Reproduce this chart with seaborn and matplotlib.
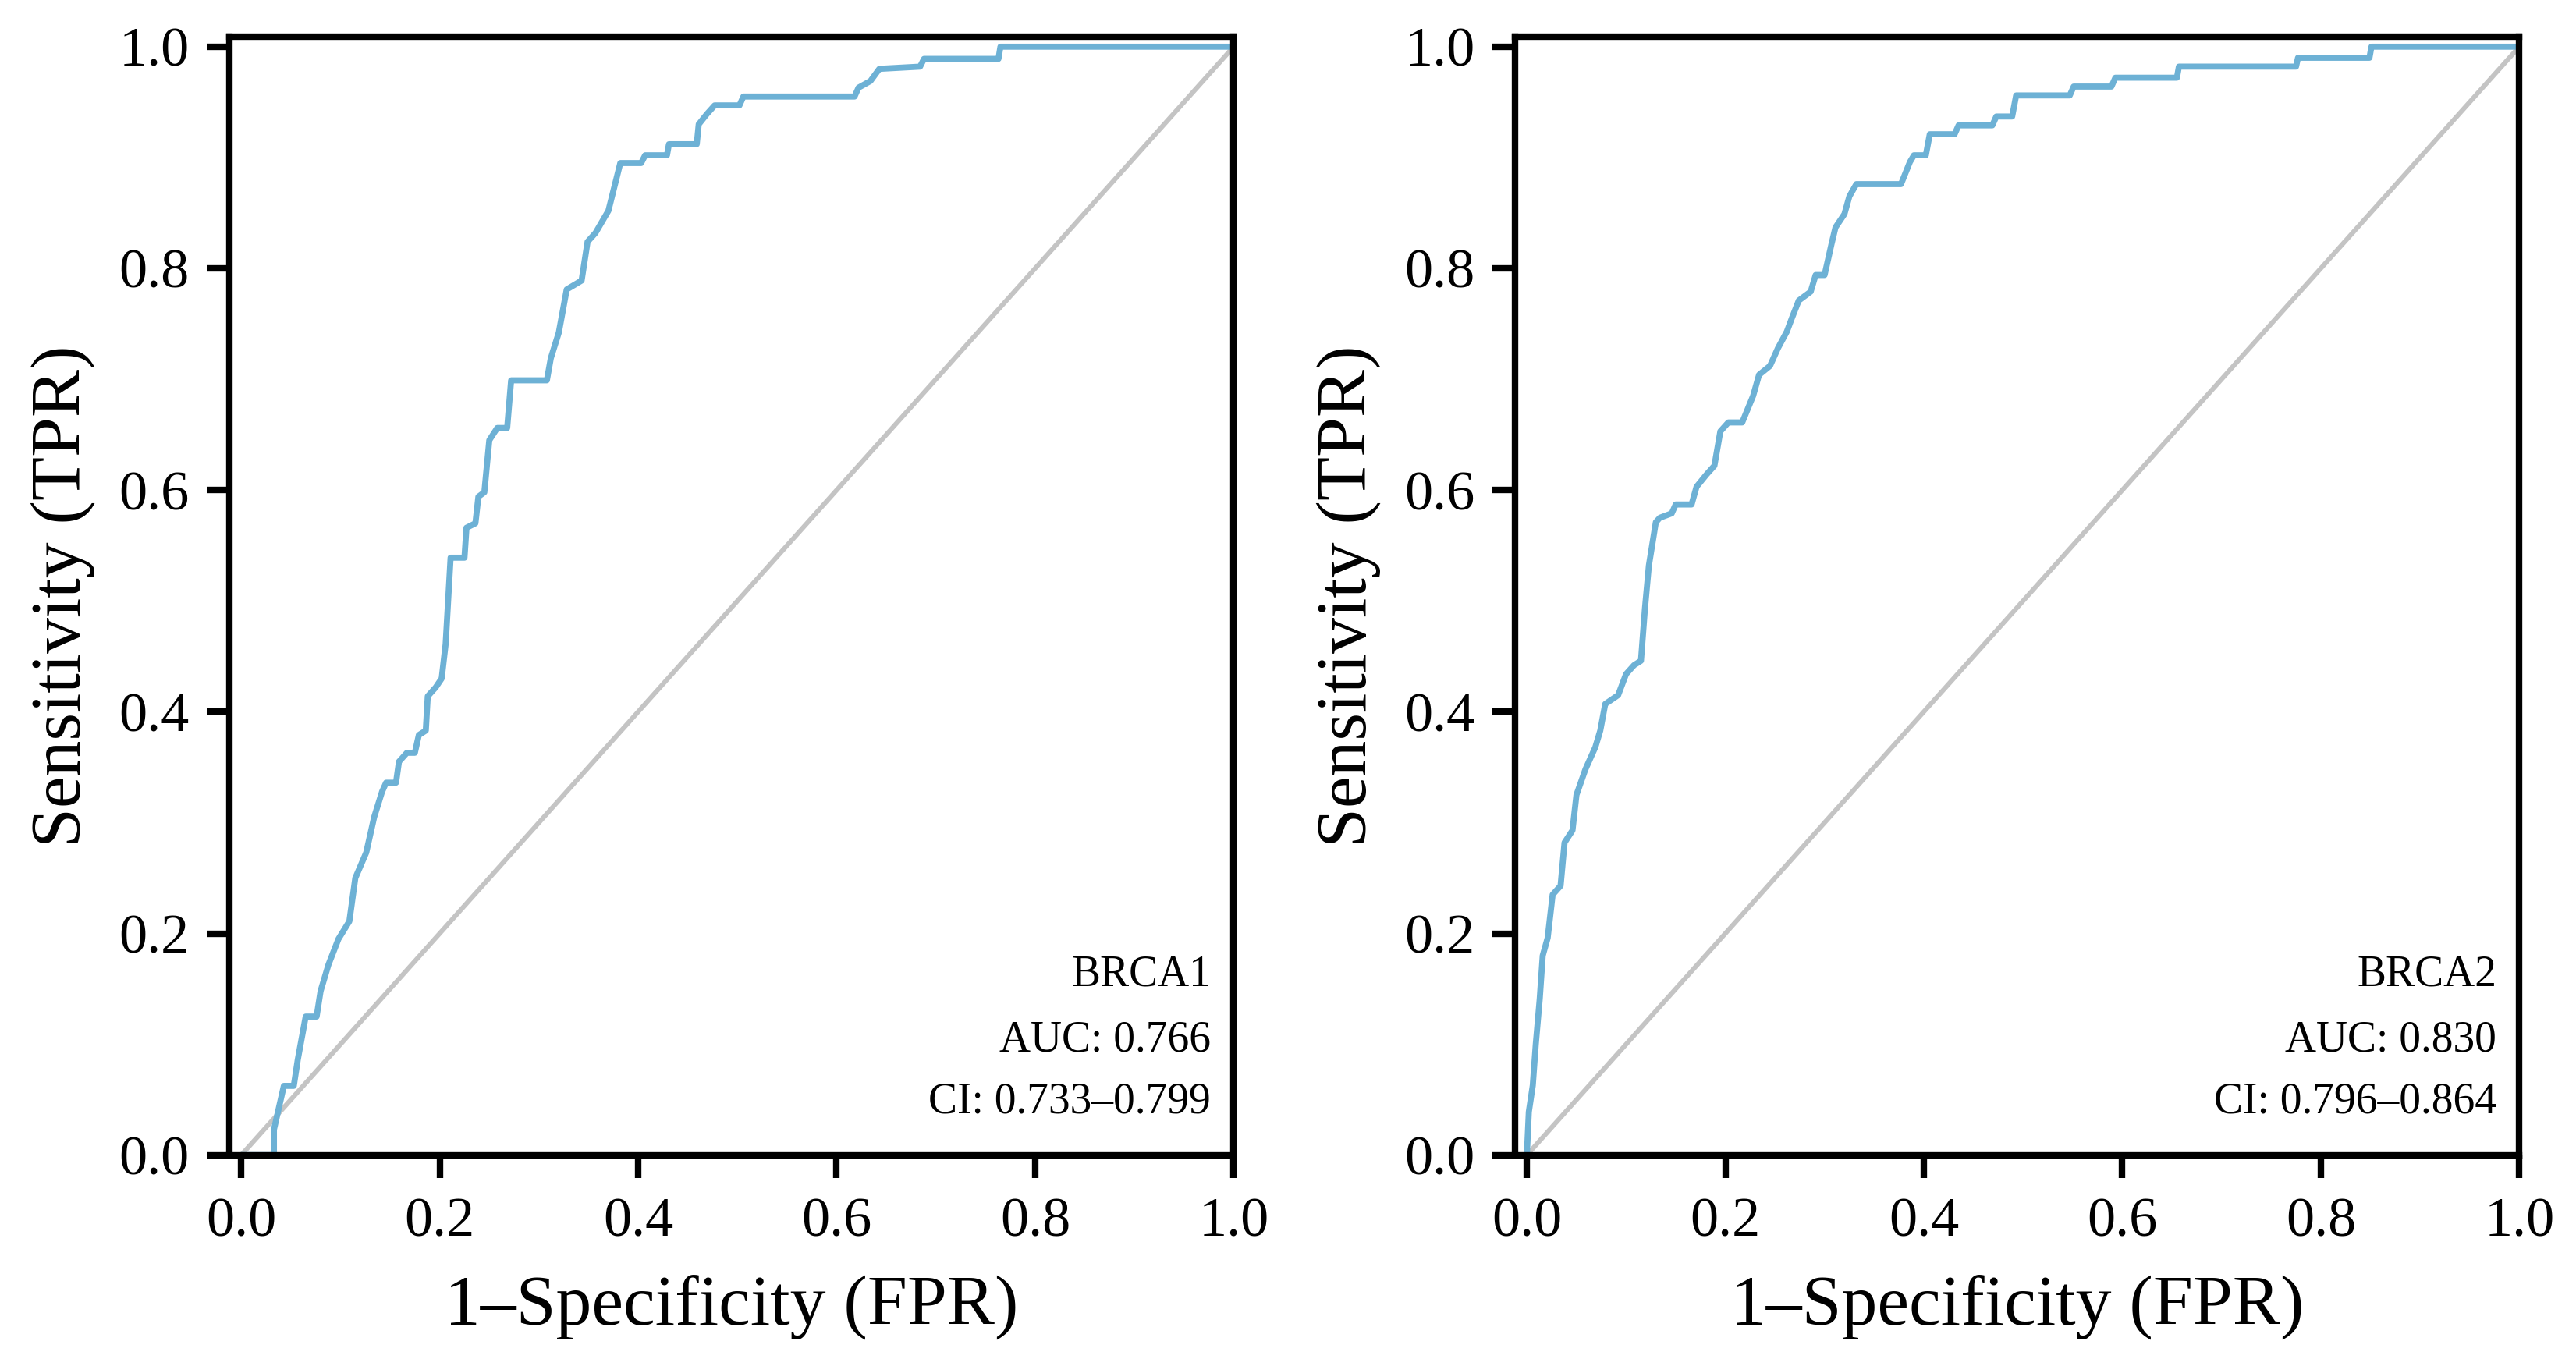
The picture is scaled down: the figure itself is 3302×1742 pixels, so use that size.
import numpy as np
import pandas as pd
import matplotlib
matplotlib.use("Agg")
import matplotlib.pyplot as plt
import seaborn as sns

# ROC curve corners
brca1_fpr = [0.0, 0.018, 0.033, 0.033, 0.043, 0.053, 0.057, 0.065, 0.076, 0.080, 0.088, 0.098,
             0.109, 0.115, 0.126, 0.134, 0.142, 0.146, 0.156, 0.159, 0.167, 0.175, 0.179, 0.186,
             0.188, 0.196, 0.202, 0.206, 0.208, 0.211, 0.225, 0.227, 0.236, 0.239, 0.245, 0.250,
             0.258, 0.268, 0.272, 0.308, 0.312, 0.320, 0.328, 0.343, 0.349, 0.357, 0.370, 0.382,
             0.403, 0.407, 0.429, 0.431, 0.459, 0.461, 0.469, 0.477, 0.502, 0.506, 0.618, 0.622,
             0.634, 0.643, 0.684, 0.688, 0.763, 0.765, 1.0]
brca1_tpr = [0.0, 0.0, 0.0, 0.023, 0.0625, 0.0625, 0.086, 0.125, 0.125, 0.148, 0.172, 0.195,
             0.211, 0.250, 0.273, 0.305, 0.328, 0.336, 0.336, 0.355, 0.363, 0.363, 0.379, 0.383,
             0.414, 0.422, 0.430, 0.461, 0.492, 0.539, 0.539, 0.566, 0.570, 0.594, 0.598, 0.645,
             0.656, 0.656, 0.699, 0.699, 0.719, 0.742, 0.781, 0.789, 0.824, 0.832, 0.852, 0.895,
             0.895, 0.902, 0.902, 0.912, 0.912, 0.930, 0.939, 0.947, 0.947, 0.955, 0.955, 0.963,
             0.969, 0.980, 0.982, 0.989, 0.989, 1.0, 1.0]

brca2_fpr = [0.0, 0.002, 0.006, 0.009, 0.013, 0.016, 0.021, 0.026, 0.034, 0.038, 0.046, 0.050,
             0.059, 0.069, 0.074, 0.079, 0.092, 0.100, 0.108, 0.115, 0.119, 0.123, 0.130, 0.134,
             0.146, 0.150, 0.166, 0.171, 0.181, 0.189, 0.195, 0.203, 0.217, 0.228, 0.234, 0.245,
             0.253, 0.262, 0.267, 0.274, 0.286, 0.291, 0.300, 0.307, 0.311, 0.320, 0.325, 0.332,
             0.377, 0.386, 0.390, 0.402, 0.406, 0.431, 0.435, 0.469, 0.473, 0.489, 0.493, 0.547,
             0.551, 0.589, 0.593, 0.655, 0.657, 0.775, 0.777, 0.849, 0.851, 1.0]
brca2_tpr = [0.0, 0.039, 0.063, 0.100, 0.141, 0.180, 0.196, 0.235, 0.243, 0.282, 0.293, 0.325,
             0.348, 0.368, 0.383, 0.407, 0.415, 0.434, 0.442, 0.446, 0.493, 0.532, 0.571, 0.575,
             0.579, 0.587, 0.587, 0.603, 0.614, 0.622, 0.653, 0.661, 0.661, 0.685, 0.704, 0.712,
             0.728, 0.743, 0.755, 0.771, 0.779, 0.794, 0.794, 0.822, 0.837, 0.849, 0.865, 0.876,
             0.876, 0.896, 0.902, 0.902, 0.921, 0.921, 0.929, 0.929, 0.937, 0.937, 0.956, 0.956,
             0.964, 0.964, 0.972, 0.972, 0.982, 0.982, 0.990, 0.990, 1.0, 1.0]

genes = ["BRCA1", "BRCA2"]
auc = ["0.766", "0.830"]
ci = ["0.733\u20130.799", "0.796\u20130.864"]

sns.set_style("ticks")
plt.rcParams["font.family"] = ["Liberation Serif", "DejaVu Serif"]
plt.rcParams["axes.linewidth"] = 3.0
plt.rcParams["text.color"] = "black"
plt.rcParams["axes.labelcolor"] = "black"
plt.rcParams["xtick.color"] = "black"
plt.rcParams["ytick.color"] = "black"

fig, axes = plt.subplots(1, 2, figsize=(16.51, 8.71), dpi=200)
fig.subplots_adjust(left=0.089, right=0.978, bottom=0.15, top=0.973, wspace=0.28)

curves = [(brca1_fpr, brca1_tpr), (brca2_fpr, brca2_tpr)]
for i, ax in enumerate(axes):
    df = pd.DataFrame({"fpr": curves[i][0], "tpr": curves[i][1]})
    ax.plot([0, 1], [0, 1], color="#c4c4c4", lw=2.2, zorder=1)
    sns.lineplot(data=df, x="fpr", y="tpr", ax=ax, estimator=None, sort=False,
                 color="#6db1d5", lw=2.8, zorder=2)
    ax.set_xlim(-0.012, 1.0)
    ax.set_ylim(0, 1.009)
    ax.set_xticks(np.arange(0, 1.01, 0.2))
    ax.set_yticks(np.arange(0, 1.01, 0.2))
    ax.tick_params(axis="both", labelsize=26, width=3.0, length=10.5, direction="out")
    ax.tick_params(axis="x", pad=9)
    ax.tick_params(axis="y", pad=8)
    ax.set_xlabel("1\u2013Specificity (FPR)", fontsize=33, labelpad=12)
    ax.set_ylabel("Sensitivity (TPR)", fontsize=33, labelpad=11)
    for side in ["top", "right", "left", "bottom"]:
        ax.spines[side].set_visible(True)
        ax.spines[side].set_color("black")
    ax.text(0.977, 0.153, genes[i], ha="right", va="baseline", fontsize=20)
    ax.text(0.977, 0.094, "AUC: " + auc[i], ha="right", va="baseline", fontsize=20)
    ax.text(0.977, 0.038, "CI: " + ci[i], ha="right", va="baseline", fontsize=20)

plt.savefig("out.png", dpi=200)
